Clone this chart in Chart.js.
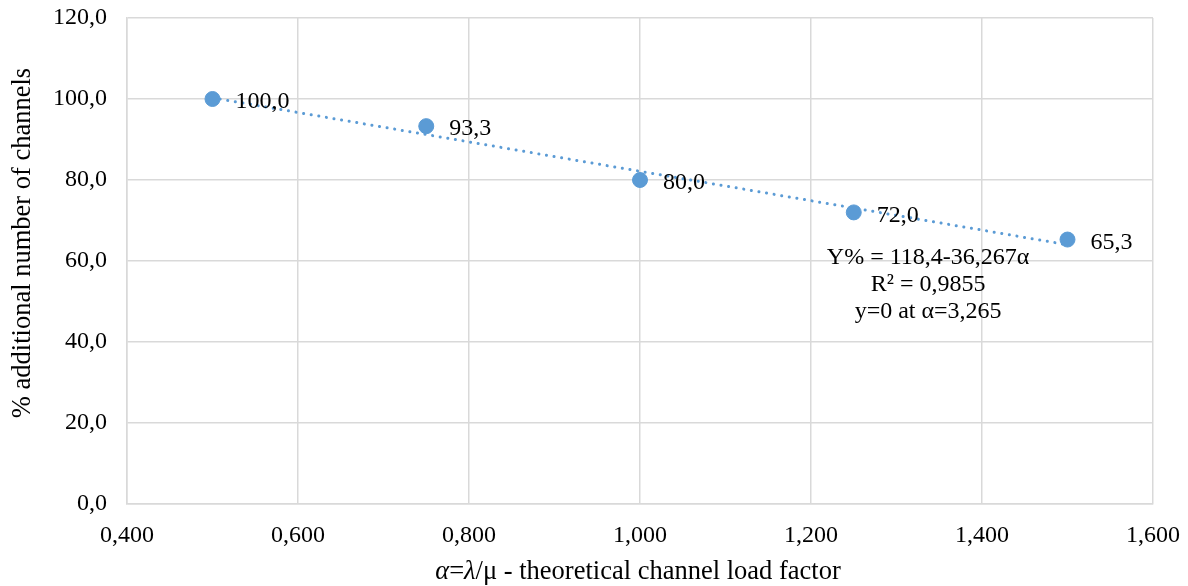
<!DOCTYPE html>
<html><head><meta charset="utf-8">
<script src="https://cdn.jsdelivr.net/npm/chart.js@4"></script>
<style>html,body{margin:0;padding:0;background:#fff}#w{width:1188px;height:586px}</style>
</head><body><div id="w"><canvas id="c" width="1188" height="586"></canvas></div>
<script>
const loadFactor = [0.5, 0.75, 1.0, 1.25, 1.5];
const extraChannels = [100.0, 93.3, 80.0, 72.0, 65.3];
const trendX = [0.5, 1.5];
const trendY = [100.3, 64.0];
const equationLines = ['Y% = 118,4-36,267\u03b1', 'R\u00b2 = 0,9855', 'y=0 at \u03b1=3,265'];
const yTitle = '% additional number of channels';

const FONT = '"Liberation Serif", "Times New Roman", serif';
const BLUE = '#5B9BD5';
const comma = (v, d) => Number(v).toFixed(d).replace('.', ',');

const labelsPlugin = {
  id: 'labelsPlugin',
  afterDatasetsDraw(chart) {
    const ctx = chart.ctx;
    const meta = chart.getDatasetMeta(1);
    ctx.save();
    ctx.font = '24px ' + FONT;
    ctx.fillStyle = '#000';
    ctx.textAlign = 'left';
    ctx.textBaseline = 'middle';
    meta.data.forEach((pt, i) => {
      ctx.fillText(comma(extraChannels[i], 1), pt.x + 23, pt.y + 3);
    });
    const xs = chart.scales.x, ys = chart.scales.y;
    const cx = xs.getPixelForValue(1.337);
    const y0 = ys.getPixelForValue(60.8);
    ctx.textAlign = 'center';
    equationLines.forEach((t, i) => ctx.fillText(t, cx, y0 + i * 27));
    const FS = '26.5px ';
    const midX = 638;
    const parts = [['\u03b1', true], ['=', false], ['\u03bb', true], ['/\u03bc - theoretical channel load factor', false]];
    let total = 0;
    parts.forEach(p => { ctx.font = (p[1] ? 'italic ' : '') + FS + FONT; total += ctx.measureText(p[0]).width; });
    let x = midX - total / 2;
    ctx.textAlign = 'left';
    parts.forEach(p => { ctx.font = (p[1] ? 'italic ' : '') + FS + FONT; ctx.fillText(p[0], x, 572); x += ctx.measureText(p[0]).width; });
    ctx.font = FS + FONT;
    ctx.translate(23, 243);
    ctx.rotate(-Math.PI / 2);
    ctx.textAlign = 'center';
    ctx.fillText(yTitle, 0, 0);
    ctx.restore();
  }
};

function zeroPad(s) { s.paddingTop = 0; s.paddingBottom = 0; s.paddingLeft = 0; s.paddingRight = 0; }

new Chart(document.getElementById('c'), {
  type: 'scatter',
  data: {
    datasets: [
      {
        label: 'trend',
        data: trendX.map((x, i) => ({x, y: trendY[i]})),
        showLine: true,
        borderColor: BLUE,
        borderWidth: 3,
        borderDash: [0.1, 7.6],
        borderCapStyle: 'round',
        pointRadius: 0,
        fill: false,
        order: 2
      },
      {
        label: 'data',
        data: loadFactor.map((x, i) => ({x, y: extraChannels[i]})),
        backgroundColor: BLUE,
        borderColor: BLUE,
        pointRadius: 7.5,
        pointHoverRadius: 7.5,
        order: 1
      }
    ]
  },
  options: {
    responsive: false,
    animation: false,
    devicePixelRatio: 1,
    layout: { padding: { left: 0, right: 35, top: 18, bottom: 0 } },
    plugins: { legend: { display: false }, tooltip: { enabled: false } },
    scales: {
      x: {
        type: 'linear', min: 0.4, max: 1.6,
        afterFit(s) { s.height = 82; zeroPad(s); },
        grid: { color: '#d9d9d9', lineWidth: 1.5, drawTicks: false },
        border: { color: '#d9d9d9', width: 1.5 },
        ticks: { stepSize: 0.2, padding: 17, color: '#000', font: { family: FONT, size: 24 },
          callback: v => comma(v, 3), maxRotation: 0 }
      },
      y: {
        type: 'linear', min: 0, max: 120,
        afterFit(s) { s.width = 127; zeroPad(s); },
        grid: { color: '#d9d9d9', lineWidth: 1.5, drawTicks: false },
        border: { color: '#d9d9d9', width: 1.5 },
        ticks: { stepSize: 20, padding: 20, color: '#000', font: { family: FONT, size: 24 },
          callback: v => comma(v, 1) }
      }
    }
  },
  plugins: [labelsPlugin]
});
</script>
</body></html>
